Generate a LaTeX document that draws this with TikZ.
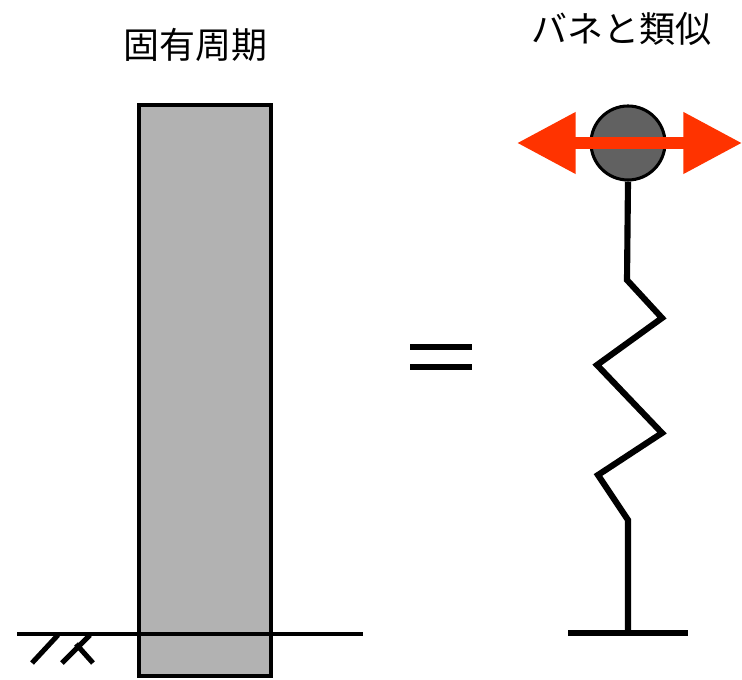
\documentclass[tikz,border=0pt]{standalone}
\usepackage{fontspec}
\newfontfamily\jpfont{Noto Sans CJK JP}
\usetikzlibrary{arrows.meta}
\definecolor{swayred}{RGB}{255,51,0}

\begin{document}
\begin{tikzpicture}[x=0.75pt,y=-0.75pt,line cap=butt,line join=miter]
    % styles
    \tikzstyle{title}=[font=\jpfont\fontsize{27}{31}\selectfont]
    \tikzstyle{pillar}=[fill=black!30,draw=black,line width=3pt]
    \tikzstyle{ground}=[draw=black,line width=3.6pt]
    \tikzstyle{spring}=[draw=black,line width=4.6pt]
    \tikzstyle{mass}=[circle,inner sep=0pt,minimum size=55.5pt,fill=black!62,draw=black,line width=2.3pt]
    \tikzstyle{sway}=[draw=swayred,line width=9pt,
      {Triangle[length=44pt,width=44pt]}-{Triangle[length=44pt,width=44pt]}]

    \useasboundingbox (0,0) rectangle (742,680);

    % ----------------------------------------------------
    % left : building on the ground
    % ----------------------------------------------------
    \node[title] (lefttitle) at (195,45) {固有周期};
    \path[pillar] (139,105) rectangle (271,676);
    \draw[ground] (17,634) -- (363,634);
    % hatch under the ground line
    \draw[ground,line width=3.8pt] (32,663) -- (58,635);
    \draw[ground,line width=3.8pt] (62,663) -- (90,635);
    \draw[ground,line width=3.8pt] (76,644) -- (93,663);

    % equals sign
    \draw[line width=4.2pt] (410,347) -- (472,347);
    \draw[line width=4.2pt] (410,367) -- (472,367);

    % ----------------------------------------------------
    % right : mass on a spring
    % ----------------------------------------------------
    \node[title] (righttitle) at (621,29) {バネと類似};
    \node[mass] (ball) at (628,143) {};
    \coordinate (base) at (628,633);
    \draw[spring] (ball.south) -- (627,280) -- (662,318) -- (597,365)
      -- (662,433) -- (598,475) -- (628,520) -- (base);
    \draw[spring,line width=4.2pt] (568,633) -- (688,633);

    % horizontal sway arrow over the ball
    \coordinate (swayL) at (517,143);
    \coordinate (swayR) at (742,143);
    \draw[sway] (swayL) -- (swayR);
\end{tikzpicture}
\end{document}
